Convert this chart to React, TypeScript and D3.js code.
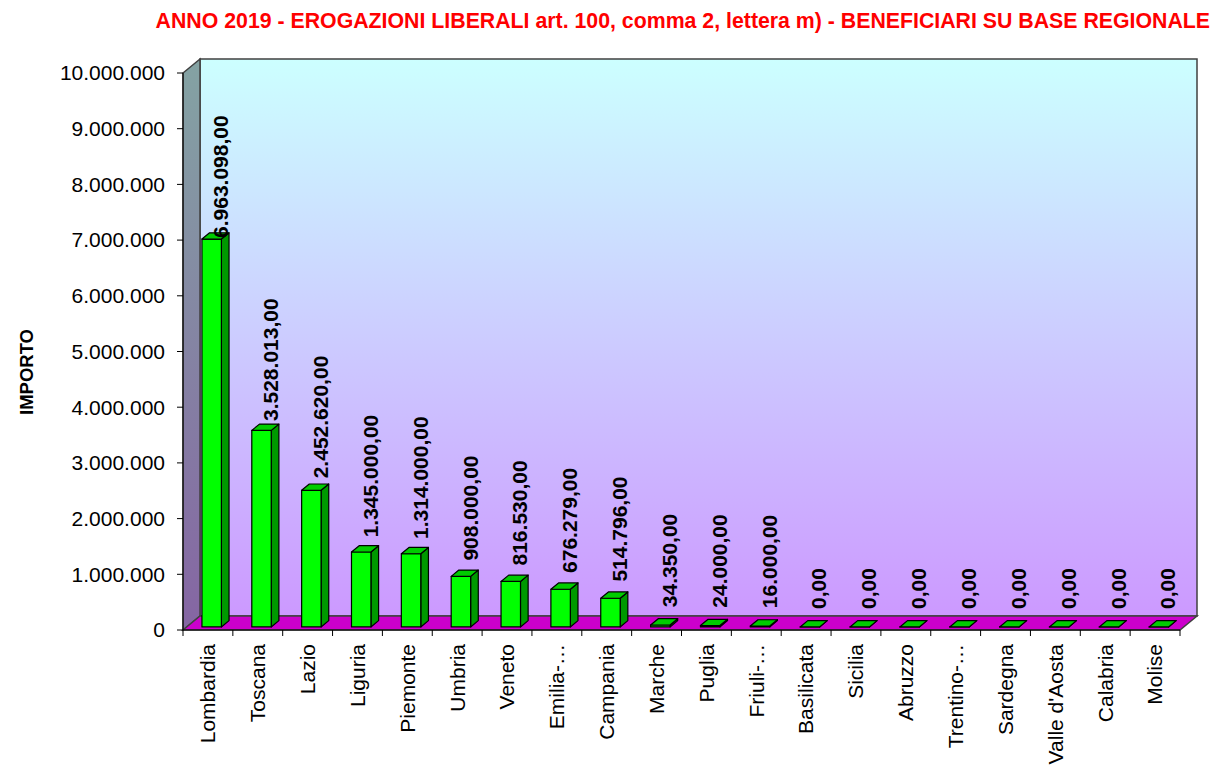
import React from "react";
import * as d3 from "d3";

const regions = [
  "Lombardia", "Toscana", "Lazio", "Liguria", "Piemonte", "Umbria", "Veneto",
  "Emilia-…", "Campania", "Marche", "Puglia", "Friuli-…", "Basilicata", "Sicilia",
  "Abruzzo", "Trentino-…", "Sardegna", "Valle d'Aosta", "Calabria", "Molise",
];
const importi = [
  6963098, 3528013, 2452620, 1345000, 1314000, 908000, 816530, 676279, 514796,
  34350, 24000, 16000, 0, 0, 0, 0, 0, 0, 0, 0,
];
const yTicks = [0, 1e6, 2e6, 3e6, 4e6, 5e6, 6e6, 7e6, 8e6, 9e6, 1e7];

const W = 1215;
const H = 767;
const left = 183;
const right = 1180;
const top = 73;
const bottom = 630;
const depthX = 17;
const depthY = -14;

const fmtInt = (v: number) => d3.format(",")(v).replace(/,/g, ".");
const fmtLabel = (v: number) =>
  d3.format(",.2f")(v).replace(/,/g, "#").replace(".", ",").replace(/#/g, ".");

export default function App() {
  const x = d3.scaleBand<string>().domain(regions).range([left, right]).paddingInner(0).paddingOuter(0);
  const y = d3.scaleLinear().domain([0, 1e7]).range([bottom, top]);
  // labels sit a bit lower than the projected bar tops (3D perspective in the original)
  const yLab = d3.scaleLinear().domain([0, 7e6]).range([609, 236]);

  const bw = x.bandwidth();
  const barW = bw * 0.39;
  const barOff = (bw - barW) / 2;
  const d0 = 0.22;
  const d1 = 0.67;

  const pt = (px: number, py: number, d: number) => [px + depthX * d, py + depthY * d];
  const poly = (pts: number[][]) => pts.map((p) => p.join(",")).join(" ");

  return (
    <svg width={W} height={H} style={{ position: "absolute", left: 0, top: 0, background: "#fff" }}
      fontFamily="'Liberation Sans', Arial, sans-serif">
      <defs>
        <linearGradient id="backWall" x1="0" y1="0" x2="0" y2="1">
          <stop offset="0" stopColor="#ccffff" />
          <stop offset="1" stopColor="#cc99ff" />
        </linearGradient>
        <linearGradient id="sideWall" x1="0" y1="0" x2="0" y2="1">
          <stop offset="0" stopColor="#84a3a3" />
          <stop offset="1" stopColor="#8565a3" />
        </linearGradient>
      </defs>

      <text x={1210} y={28} textAnchor="end" fill="#ff0000" fontWeight="bold" fontSize={21.3}>
        ANNO 2019 - EROGAZIONI LIBERALI art. 100, comma 2, lettera m) - BENEFICIARI SU BASE REGIONALE
      </text>

      {/* back wall */}
      <polygon
        points={poly([pt(left, top, 1), pt(right, top, 1), pt(right, bottom, 1), pt(left, bottom, 1)])}
        fill="url(#backWall)" stroke="#404040" strokeWidth={1.5} />
      {/* side wall */}
      <polygon
        points={poly([pt(left, top, 0), pt(left, top, 1), pt(left, bottom, 1), pt(left, bottom, 0)])}
        fill="url(#sideWall)" stroke="#404040" strokeWidth={1.5} />
      {/* floor */}
      <polygon
        points={poly([pt(left, bottom, 0), pt(left, bottom, 1), pt(right, bottom, 1), pt(right, bottom, 0)])}
        fill="#cc00cc" stroke="#404040" strokeWidth={1.5} />

      {/* y axis */}
      <line x1={left} x2={left} y1={top} y2={bottom} stroke="#000" />
      {yTicks.map((t) => (
        <g key={t}>
          <line x1={left - 6} x2={left} y1={y(t)} y2={y(t)} stroke="#000" />
          <text x={left - 18} y={y(t)} dy="0.35em" textAnchor="end" fontSize={21}>{fmtInt(t)}</text>
        </g>
      ))}
      <text transform={`translate(27,372) rotate(-90)`} dy="0.35em" textAnchor="middle"
        fontWeight="bold" fontSize={18.5}>IMPORTO</text>

      {/* x axis */}
      <line x1={left} x2={right} y1={bottom} y2={bottom} stroke="#000" />
      {d3.range(regions.length + 1).map((i) => (
        <line key={i} x1={left + i * bw} x2={left + i * bw} y1={bottom} y2={bottom + 6} stroke="#000" />
      ))}
      {regions.map((r) => (
        <text key={r} transform={`translate(${(x(r) as number) + bw / 2},${bottom + 14}) rotate(-90)`}
          dy="0.35em" textAnchor="end" fontSize={21}>{r}</text>
      ))}

      {/* bars */}
      {regions.map((r, i) => {
        const v = importi[i];
        const xl = (x(r) as number) + barOff;
        const xr = xl + barW;
        const yt = y(v);
        const front = [pt(xl, yt, d0), pt(xr, yt, d0), pt(xr, bottom, d0), pt(xl, bottom, d0)];
        const side = [pt(xr, yt, d0), pt(xr, yt, d1), pt(xr, bottom, d1), pt(xr, bottom, d0)];
        const topF = [pt(xl, yt, d0), pt(xl, yt, d1), pt(xr, yt, d1), pt(xr, yt, d0)];
        return (
          <g key={r} stroke="#000" strokeWidth={1.2} strokeLinejoin="round">
            <polygon points={poly(side)} fill="#009900" />
            <polygon points={poly(front)} fill="#00ff00" />
            <polygon points={poly(topF)} fill="#00cc00" />
          </g>
        );
      })}

      {/* value labels */}
      {regions.map((r, i) => (
        <text key={r} transform={`translate(${(x(r) as number) + bw / 2 + 13},${yLab(importi[i])}) rotate(-90)`}
          dy="0.35em" textAnchor="start" fontWeight="bold" fontSize={21}>{fmtLabel(importi[i])}</text>
      ))}
    </svg>
  );
}
